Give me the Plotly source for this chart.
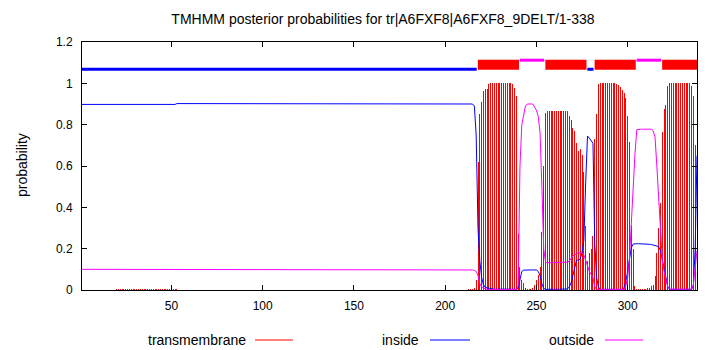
import plotly.graph_objects as go

# ---------------- data ----------------
title_text = "TMHMM posterior probabilities for tr|A6FXF8|A6FXF8_9DELT/1-338"
seq_len = 338

# predicted topology (top bars)
topo_kind = ["inside", "TMhelix", "outside", "TMhelix", "inside", "TMhelix", "outside", "TMhelix"]
topo_start = [1, 218, 241, 255, 278, 282, 305, 319]
topo_end = [217, 240, 254, 277, 281, 304, 318, 338]

# flat N-terminal part of the inside / outside curves
lead_res = [1, 52, 53, 212]
lead_inside = [0.898, 0.898, 0.902, 0.902]
lead_outside = [0.100, 0.100, 0.097, 0.097]

# tiny transmembrane impulses near residue 20-53
tm_low_res = list(range(20, 54))
tm_low = [0.004, 0.004, 0.004, 0.004, 0.004, 0.004, 0.004, 0.004, 0.004, 0.004,
          0.004, 0.004, 0.004, 0.004, 0.004, 0.004, 0.004, 0.004, 0.004, 0.004,
          0.004, 0.004, 0.004, 0.004, 0.004, 0.004, 0.004, 0.004, 0.004, 0.004,
          0.004, 0.004, 0.004, 0.004]

# per-residue values for residues 213..338
tail_res = list(range(213, 339))
tm_tail = [
    0.003, 0.004, 0.006, 0.012, 0.05, 0.62, 0.85, 0.91, 0.964, 0.972,          # 213-222
    0.975, 0.997, 1.0, 1.0, 1.0, 1.0, 1.0, 1.0, 1.0, 1.0,                    # 223-232
    1.0, 1.0, 1.0, 1.0, 0.998, 0.978, 0.939, 0.27, 0.11, 0.05,              # 233-242
    0.035, 0.01, 0.005, 0.004, 0.005, 0.008, 0.025, 0.05, 0.075, 0.11,      # 243-252
    0.28, 0.6, 0.855, 0.865, 0.865, 0.865, 0.865, 0.865, 0.865, 0.865,      # 253-262
    0.865, 0.865, 0.865, 0.865, 0.865, 0.843, 0.823, 0.783, 0.770, 0.711,   # 263-272
    0.675, 0.680, 0.655, 0.57, 0.31, 0.14, 0.18, 0.20, 0.26, 0.73,          # 273-282
    0.85, 0.995, 1.0, 1.0, 1.0, 1.0, 1.0, 1.0, 1.0, 1.0,                    # 283-292
    1.0, 0.995, 0.99, 0.98, 0.97, 0.952, 0.93, 0.842, 0.718, 0.316,         # 293-302
    0.2, 0.02, 0.005, 0.004, 0.004, 0.004, 0.005, 0.006, 0.008, 0.012,      # 303-312
    0.018, 0.025, 0.07, 0.18, 0.3, 0.42, 0.766, 0.874, 0.895, 0.985,        # 313-322
    1.0, 1.0, 1.0, 1.0, 1.0, 1.0, 1.0, 1.0, 1.0, 1.0,                       # 323-332
    1.0, 1.0, 0.985, 0.94, 0.7, 0.16,                                       # 333-338
]
inside_tail = [
    0.902, 0.902, 0.9, 0.89, 0.75, 0.30, 0.14, 0.06, 0.025, 0.012,          # 213-222
    0.01, 0.008, 0.005, 0.004, 0.004, 0.004, 0.004, 0.004, 0.004, 0.004,    # 223-232
    0.004, 0.004, 0.004, 0.004, 0.004, 0.004, 0.004, 0.01, 0.06, 0.09,      # 233-242
    0.096, 0.097, 0.097, 0.097, 0.097, 0.097, 0.097, 0.097, 0.09, 0.07,     # 243-252
    0.03, 0.008, 0.003, 0.003, 0.003, 0.003, 0.003, 0.003, 0.003, 0.003,    # 253-262
    0.003, 0.003, 0.003, 0.003, 0.005, 0.015, 0.035, 0.07, 0.11, 0.145,     # 263-272
    0.145, 0.15, 0.18, 0.24, 0.52, 0.745, 0.735, 0.725, 0.71, 0.22,         # 273-282
    0.06, 0.015, 0.003, 0.003, 0.003, 0.003, 0.003, 0.003, 0.003, 0.003,    # 283-292
    0.003, 0.003, 0.003, 0.003, 0.003, 0.01, 0.04, 0.09, 0.155, 0.205,      # 293-302
    0.222, 0.224, 0.224, 0.224, 0.224, 0.224, 0.224, 0.223, 0.222, 0.221,   # 303-312
    0.22, 0.218, 0.217, 0.215, 0.21, 0.19, 0.15, 0.095, 0.06, 0.015,        # 313-322
    0.003, 0.003, 0.003, 0.003, 0.003, 0.003, 0.003, 0.003, 0.003, 0.003,   # 323-332
    0.003, 0.003, 0.003, 0.02, 0.2, 0.65,                                   # 333-338
]
outside_tail = [
    0.097, 0.097, 0.097, 0.095, 0.09, 0.07, 0.03, 0.015, 0.008, 0.005,      # 213-222
    0.002, 0.002, 0.002, 0.002, 0.002, 0.002, 0.002, 0.002, 0.002, 0.002,   # 223-232
    0.002, 0.002, 0.002, 0.002, 0.002, 0.002, 0.002, 0.02, 0.6, 0.8,        # 233-242
    0.85, 0.89, 0.9, 0.9, 0.9, 0.9, 0.885, 0.87, 0.84, 0.76,                # 243-252
    0.5, 0.2, 0.135, 0.132, 0.132, 0.132, 0.132, 0.132, 0.132, 0.132,       # 253-262
    0.132, 0.132, 0.132, 0.132, 0.135, 0.14, 0.155, 0.165, 0.17, 0.175,     # 263-272
    0.18, 0.18, 0.18, 0.17, 0.14, 0.11, 0.09, 0.075, 0.06, 0.015,           # 273-282
    0.003, 0.003, 0.003, 0.003, 0.003, 0.003, 0.003, 0.003, 0.003, 0.003,   # 283-292
    0.003, 0.003, 0.003, 0.003, 0.003, 0.003, 0.02, 0.06, 0.155, 0.34,      # 293-302
    0.5, 0.655, 0.776, 0.778, 0.778, 0.778, 0.778, 0.778, 0.778, 0.778,     # 303-312
    0.778, 0.77, 0.74, 0.6, 0.45, 0.3, 0.14, 0.09, 0.05, 0.015,             # 313-322
    0.004, 0.004, 0.004, 0.004, 0.004, 0.004, 0.004, 0.004, 0.004, 0.004,   # 323-332
    0.004, 0.004, 0.004, 0.025, 0.12, 0.19,                                 # 333-338
]

x_tick_vals = [50, 100, 150, 200, 250, 300]
y_tick_vals = [0, 0.2, 0.4, 0.6, 0.8, 1.0, 1.2]
y_tick_text = ["0", "0.2", "0.4", "0.6", "0.8", "1", "1.2"]

legend_names = ["transmembrane", "inside", "outside"]

# ---------------- styling ----------------
RED, BLUE, MAG = "#ff0000", "#0000ff", "#ff00ff"
RED_BAR = "rgba(255,0,0,0.999)"   # alpha<1 -> plotly rounds bar edges to whole pixels
FONT = "Liberation Sans, Arial, sans-serif"
W, H = 710, 350
L, R, T, B = 82, 13, 42, 60
PW, PH = W - L - R, H - T - B

kind_style = {
    "inside": dict(y=1.068, color=BLUE, width=3, pad0=0.1, pad1=0.3),
    "outside": dict(y=1.112, color=MAG, width=3, pad0=0.1, pad1=0.3),
    "TMhelix": dict(y=1.0895, color=RED, width=10, pad0=0.1, pad1=0.45),
}

fig = go.Figure()

# transmembrane impulses
fig.add_trace(go.Bar(
    x=tm_low_res + tail_res, y=tm_low + tm_tail, width=0.55,
    marker=dict(color=RED_BAR, line=dict(width=0)), hoverinfo="skip"))

# inside / outside curves
fig.add_trace(go.Scatter(
    x=lead_res + tail_res, y=lead_inside + inside_tail, mode="lines",
    line=dict(color=BLUE, width=1), hoverinfo="skip"))
fig.add_trace(go.Scatter(
    x=lead_res + tail_res, y=lead_outside + outside_tail, mode="lines",
    line=dict(color=MAG, width=1), hoverinfo="skip"))

# topology bars on top
for k, s, e in zip(topo_kind, topo_start, topo_end):
    st = kind_style[k]
    fig.add_trace(go.Scatter(
        x=[s - st["pad0"], e + st["pad1"]], y=[st["y"], st["y"]], mode="lines",
        line=dict(color=st["color"], width=st["width"]), hoverinfo="skip"))

# ---------------- layout ----------------
axis_common = dict(showline=True, linecolor="black", linewidth=1, mirror="ticks",
                   ticks="inside", ticklen=5, tickcolor="black", tickwidth=1,
                   showgrid=False, zeroline=False,
                   tickfont=dict(family=FONT, size=12, color="black"))

fig.update_layout(
    width=W, height=H, margin=dict(l=L, r=R, t=T, b=B),
    paper_bgcolor="white", plot_bgcolor="white", showlegend=False,
    bargap=0,
    title=dict(text=title_text, x=(383 - L) / PW, xref="paper", xanchor="center",
               y=1 - 19 / H, yref="container", yanchor="middle",
               font=dict(family=FONT, size=14, color="black")),
    xaxis=dict(range=[1, seq_len], tickvals=x_tick_vals, ticklabelstandoff=5, **axis_common),
    yaxis=dict(range=[0, 1.2], tickvals=y_tick_vals, ticktext=y_tick_text,
               ticklabelstandoff=6, **axis_common),
)

# y-axis label
fig.add_annotation(text="probability", textangle=-90, xref="paper", yref="paper",
                   x=(22 - L) / PW, y=(PH - (165 - T)) / PH, xanchor="center", yanchor="middle",
                   showarrow=False, font=dict(family=FONT, size=14, color="black"))

# gnuplot-style legend: text then line sample
legend_text_right = [248, 421, 596]
legend_line_x = [(255, 293), (430, 470), (605, 643)]
legend_colors = [RED, BLUE, MAG]
legend_y = (PH - (340 - T)) / PH
for name, tr, (lx0, lx1), c in zip(legend_names, legend_text_right, legend_line_x, legend_colors):
    fig.add_annotation(text=name, xref="paper", yref="paper", x=(tr - L) / PW, y=legend_y,
                       xanchor="right", yanchor="middle", showarrow=False,
                       font=dict(family=FONT, size=14, color="black"))
    fig.add_shape(type="line", xref="paper", yref="paper",
                  x0=(lx0 - L) / PW, x1=(lx1 - L) / PW, y0=legend_y, y1=legend_y,
                  line=dict(color=c, width=1))

fig.write_html("out.html")
